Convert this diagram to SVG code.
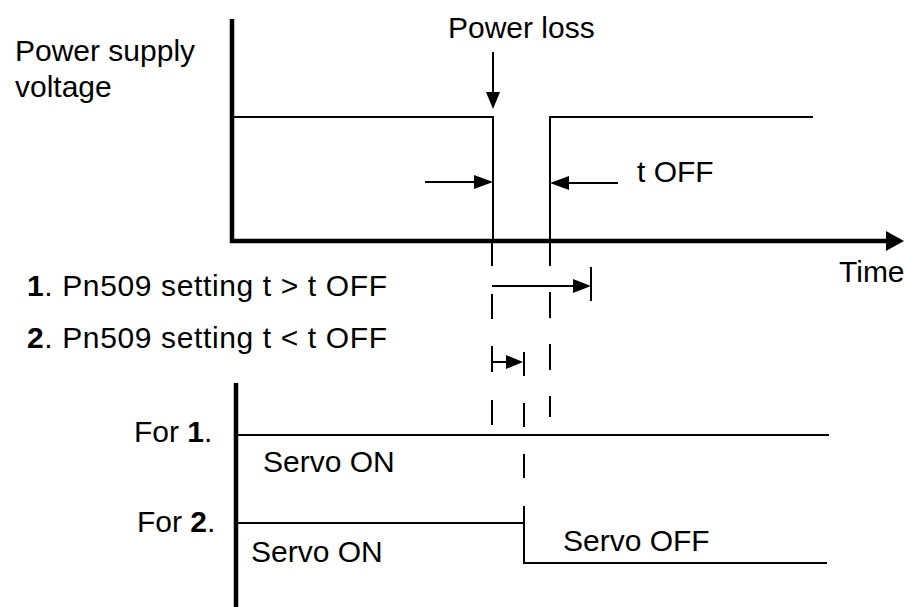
<svg xmlns="http://www.w3.org/2000/svg" width="904" height="607" viewBox="0 0 904 607">
<style>
text{font-family:"Liberation Sans",Arial,sans-serif;font-size:30px;fill:#000}
.ax{stroke:#000;stroke-width:4.5;fill:none}
.w{stroke:#000;stroke-width:2;fill:none}
.d{stroke:#000;stroke-width:2;fill:none}
.h{fill:#000}
</style>
<rect width="904" height="607" fill="#fff"/>
<g id="labels">
<text x="15" y="61">Power supply</text>
<text x="15" y="97">voltage</text>
<text x="448" y="38">Power loss</text>
<text x="637" y="182">t OFF</text>
<text x="839" y="282">Time</text>
<text x="27" y="296" textLength="360"><tspan font-weight="bold">1</tspan>. Pn509 setting t &gt; t OFF</text>
<text x="27" y="348" textLength="360"><tspan font-weight="bold">2</tspan>. Pn509 setting t &lt; t OFF</text>
<text x="134" y="442">For <tspan font-weight="bold">1</tspan>.</text>
<text x="137" y="532">For <tspan font-weight="bold">2</tspan>.</text>
<text x="263" y="472">Servo ON</text>
<text x="251" y="562">Servo ON</text>
<text x="563" y="551">Servo OFF</text>
</g>
<g id="axes">
<path class="ax" d="M232,19 V241 H890"/>
<polygon class="h" points="886,231 904,241 886,251"/>
<path class="ax" d="M236,383 V607"/>
</g>
<g id="waveforms">
<path class="w" d="M232,117 H493 V241"/>
<path class="w" d="M550,241 V117 H813"/>
<path class="w" d="M236,435 H829"/>
<path class="w" d="M236,523 H524 V563 H827"/>
</g>
<g id="connectors">
<path class="w" d="M493,52 V95"/>
<polygon class="h" points="486,92 500,92 493,109"/>
<path class="w" d="M425,182 H478"/>
<polygon class="h" points="474,175 493,182 474,189"/>
<path class="w" d="M618,183 H566"/>
<polygon class="h" points="569,176 550,183 569,190"/>
<path class="d" d="M492,241 V425" stroke-dasharray="25 28"/>
<path class="d" d="M550,240 V417" stroke-dasharray="26 26"/>
<path class="d" d="M524,403 V480" stroke-dasharray="24 27"/>
<path class="w" d="M524,506 V523"/>
<path class="w" d="M492,286 H576"/>
<polygon class="h" points="573,279 591,286 573,293"/>
<path class="w" d="M591,267 V301"/>
<path class="w" d="M492,346 V370 M492,362 H509"/>
<polygon class="h" points="506,355 523,362 506,369"/>
<path class="w" d="M524,352 V376"/>
</g>
</svg>
